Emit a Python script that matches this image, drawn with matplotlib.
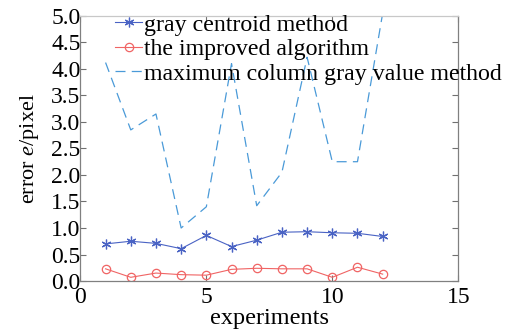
import numpy as np
import matplotlib
matplotlib.use('Agg')
import matplotlib.pyplot as plt

plt.rcParams['font.family'] = ['Liberation Serif', 'DejaVu Serif']
plt.rcParams['mathtext.fontset'] = 'custom'
plt.rcParams['mathtext.it'] = 'Liberation Serif:italic'
plt.rcParams['mathtext.rm'] = 'Liberation Serif'

experiments = np.arange(1, 13)
gray_centroid = [0.70, 0.75, 0.71, 0.61, 0.86, 0.65, 0.77, 0.92, 0.93, 0.91, 0.90, 0.84]
improved = [0.23, 0.07, 0.15, 0.12, 0.11, 0.22, 0.24, 0.23, 0.23, 0.07, 0.26, 0.13]
max_column = [4.12, 2.85, 3.15, 1.00, 1.40, 4.10, 1.42, 2.05, 4.22, 2.25, 2.25, 5.05]

fig = plt.figure(figsize=(5.12, 3.31), dpi=100)
ax = fig.add_axes([0.157, 0.151, 0.738, 0.801])

ax.plot(experiments, gray_centroid, '-', color='#4a63c4', marker=(6, 2, 0), markersize=7,
        markeredgewidth=0.9, linewidth=0.8, label='gray centroid method')
ax.plot(experiments, improved, '-', color='#f06464', marker='o', markersize=6,
        markerfacecolor='none', markeredgewidth=0.9, linewidth=0.8,
        label='the improved algorithm')
ax.plot(experiments, max_column, '--', color='#4a9ad8', linewidth=0.9,
        dashes=(8, 5), label='maximum column gray value method')

ax.set_xlim(0, 15)
ax.set_ylim(0, 5)
ax.set_xticks([0, 5, 10, 15])
ax.set_yticks(np.arange(0, 5.01, 0.5))
ax.set_yticklabels([f'{v:.1f}' for v in np.arange(0, 5.01, 0.5)])
ax.tick_params(direction='in', top=True, right=True, labelsize=17, length=4,
               color='#707070')
ax.tick_params(axis='y', pad=0)
ax.tick_params(axis='x', pad=4)
for s in ax.spines.values():
    s.set_color('#808080')
    s.set_linewidth(0.9)
ax.spines['top'].set_color('#c8c8c8')

ax.set_xlabel('experiments', fontsize=17.5, labelpad=0)
ax.set_ylabel('error $e$/pixel', fontsize=16, labelpad=7)

leg = ax.legend(loc='upper left', bbox_to_anchor=(0.066, 1.044), frameon=False,
                fontsize=17.2, handlelength=1.15, handletextpad=0.05,
                labelspacing=0.12, borderaxespad=0)

fig.savefig('out.png', dpi=100)
